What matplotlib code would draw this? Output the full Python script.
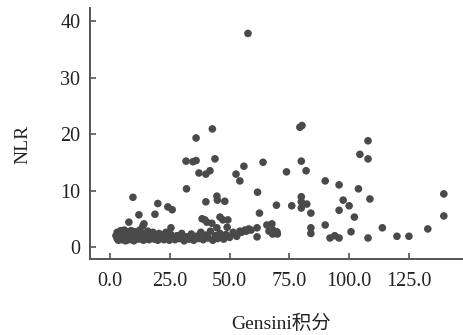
import matplotlib
matplotlib.use("Agg")
import matplotlib.pyplot as plt
from matplotlib.ticker import FormatStrFormatter

# Sparse / elevated points
sparse_x = [57.7, 79.4, 80.3, 42.8, 36.0, 31.8, 34.7, 36.0, 43.9,
            56.0, 64.0, 80.0, 104.5, 107.9, 107.9,
            37.2, 40.1, 41.8, 52.7, 54.3, 73.8, 82.0,
            90.0, 95.8, 103.9, 32.0, 9.6, 61.7,
            44.7, 44.9, 48.0, 40.1, 20.0, 24.2, 26.0,
            62.5, 69.6, 76.0, 80.0, 80.0, 82.3, 80.0, 84.0,
            97.5, 100.0, 95.8, 102.2, 108.7,
            12.1, 18.8, 7.9, 14.2, 13.8, 25.5,
            38.5, 39.7, 40.5, 42.6, 46.0, 47.2, 49.3, 44.7, 49.0,
            54.3, 56.4, 58.0, 61.5, 61.5,
            65.6, 67.7, 68.1, 69.8, 66.5, 68.0, 70.0,
            84.0, 84.0, 90.0, 92.0, 94.0, 95.8, 100.8, 107.9, 113.9,
            120.0, 125.0, 132.9, 139.6, 139.6]
sparse_y = [37.8, 21.2, 21.5, 20.9, 19.3, 15.2, 15.1, 15.3, 15.6,
            14.3, 15.0, 15.2, 16.4, 15.6, 18.8,
            13.1, 12.9, 13.5, 12.9, 11.7, 13.3, 13.5,
            11.7, 11.0, 10.3, 10.3, 8.8, 9.7,
            9.0, 8.3, 8.1, 8.0, 7.7, 7.1, 6.6,
            6.0, 7.4, 7.3, 8.9, 8.0, 7.6, 6.9, 6.0,
            8.3, 7.3, 6.5, 5.3, 8.5,
            5.7, 5.8, 4.4, 4.1, 3.8, 3.4,
            5.0, 4.8, 4.4, 4.2, 5.3, 4.8, 4.8, 3.4, 3.5,
            2.8, 3.0, 3.2, 3.4, 1.8,
            3.9, 4.1, 3.0, 2.7, 2.8, 2.3, 2.3,
            3.4, 2.4, 3.9, 1.6, 2.0, 1.6, 2.7, 1.6, 3.4,
            1.9, 1.9, 3.2, 9.4, 5.5]

# Dense low band
band_x = [2.5, 3.0, 3.0, 3.5, 3.8, 4.2, 4.5, 5.0, 5.2, 5.8, 6.0, 6.5, 6.8, 7.2,
          7.5, 8.0, 8.3, 8.8, 9.2, 9.6, 10.0, 10.4, 10.9, 11.5, 12.0, 12.4,
          13.0, 13.5, 14.0, 14.6, 15.2, 15.8, 16.3, 16.8, 17.5, 18.0, 18.6,
          19.2, 20.0, 20.5, 21.2, 22.0, 22.6, 23.4, 24.0, 24.8, 25.5, 26.3,
          27.2, 28.0, 29.0, 30.0, 31.0, 32.0, 33.0, 34.0, 35.0, 36.0, 37.0,
          38.0, 39.0, 40.0, 41.0, 42.0, 43.0, 44.0, 45.0, 46.0, 47.5, 48.5,
          50.0, 51.5, 53.0, 55.0, 57.0, 59.0]
band_y = [2.0, 1.5, 2.6, 1.2, 2.2, 1.8, 2.9, 1.3, 2.4, 1.8, 3.0, 1.1, 2.2, 1.6,
          2.7, 1.3, 2.0, 2.9, 1.6, 2.3, 1.1, 2.7, 1.8, 2.2, 1.4, 3.0,
          1.9, 2.5, 1.2, 2.1, 1.6, 2.8, 1.3, 2.2, 1.8, 2.6, 1.4,
          2.0, 1.2, 2.4, 1.7, 2.1, 1.3, 2.6, 1.8, 1.2, 2.2, 1.6,
          1.3, 2.0, 1.5, 2.4, 1.1, 1.8, 1.4, 2.3, 1.2, 1.9, 1.5,
          2.6, 1.3, 2.1, 1.6, 2.8, 1.2, 2.0, 1.5, 2.4, 1.4, 2.2,
          1.7, 2.6, 1.9, 2.6, 2.8, 3.0]

x_ticks = [0, 25, 50, 75, 100, 125]
y_ticks = [0, 10, 20, 30, 40]
x_label = "Gensini积分"
y_label = "NLR"

fam = ["Liberation Serif", "Noto Sans CJK SC"]
plt.rcParams["font.family"] = fam

fig = plt.figure(figsize=(4.63, 3.35), dpi=100)
ax = fig.add_axes([90/463, 1 - 259/335, (462-90)/463, (259-8)/335])

ax.scatter(band_x + sparse_x, band_y + sparse_y, s=30, color="#4a4a4a",
           edgecolors="none", zorder=3)

ax.set_xlim(-8.36, 147.2)
ax.set_ylim(-2.12, 42.3)
ax.set_xticks(x_ticks)
ax.set_yticks(y_ticks)
ax.xaxis.set_major_formatter(FormatStrFormatter("%.1f"))

for s in ["top", "right"]:
    ax.spines[s].set_visible(False)
for s in ["left", "bottom"]:
    ax.spines[s].set_color("#555555")
    ax.spines[s].set_linewidth(1.4)

ax.tick_params(direction="in", length=4.5, width=1.2, color="#555555",
               labelsize=14.5, labelcolor="#222222")
ax.tick_params(axis="y", pad=7)
ax.tick_params(axis="x", pad=9)

ax.set_xlabel(x_label, fontsize=14, color="#222222", family=fam)
ax.set_ylabel(y_label, fontsize=14, color="#222222", family=fam)
ax.xaxis.set_label_coords(0.513, -0.222)
ax.yaxis.set_label_coords(-0.157, 0.458)

fig.savefig("out.png", dpi=100)
